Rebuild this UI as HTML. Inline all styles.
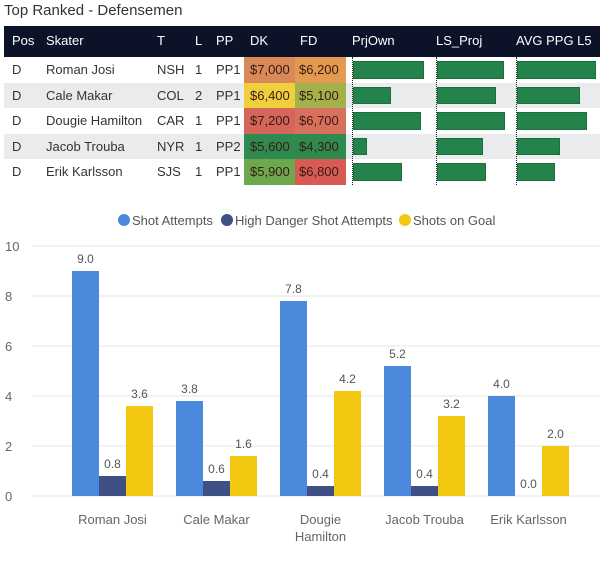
<!DOCTYPE html>
<html><head><meta charset="utf-8"><style>
body{margin:0;width:600px;height:561px;background:#fff;font-family:"Liberation Sans",sans-serif;overflow:hidden;position:relative}
.t{position:absolute;white-space:nowrap}
</style></head><body>
<div class="t" style="left:4px;top:2px;font-size:15px;color:#333">Top Ranked - Defensemen</div>
<div style="position:absolute;left:4px;top:26px;width:596px;height:31px;background:#0c1228"></div>
<div id="tbl"></div>
<svg id="chart" width="600" height="561" style="position:absolute;left:0;top:0"></svg>
<script>
const headers=["Pos","Skater","T","L","PP","DK","FD","PrjOwn","LS_Proj","AVG PPG L5"];
const headerX=[12,46,157,195,216,250,300,352,436,516];
const players=["Roman Josi","Cale Makar","Dougie Hamilton","Jacob Trouba","Erik Karlsson"];
const teams=["NSH","COL","CAR","NYR","SJS"];
const lines=["1","2","1","1","1"];
const pps=["PP1","PP1","PP1","PP2","PP1"];
const dk=["$7,000","$6,400","$7,200","$5,600","$5,900"];
const fd=["$6,200","$5,100","$6,700","$4,300","$6,800"];
const dkColors=["#d98858","#f0cf3c","#d4665a","#2e8a4e","#6ba84e"];
const fdColors=["#e39a50","#a4b04a","#d8705e","#2e8a4e","#d85a55"];
const prjOwn=[71,38,68,14,49];
const lsProj=[67,59,68,46,49];
const avgPpg=[79,63,70,43,38];
const cats=["Roman Josi","Cale Makar","Dougie\nHamilton","Jacob Trouba","Erik Karlsson"];
const shotAttempts=[9.0,3.8,7.8,5.2,4.0];
const highDanger=[0.8,0.6,0.4,0.4,0.0];
const shotsOnGoal=[3.6,1.6,4.2,3.2,2.0];
const yTicks=[0,2,4,6,8,10];

const tbl=document.getElementById('tbl');
headers.forEach((h,i)=>{const d=document.createElement('div');d.className='t';


d.style.cssText=`left:${headerX[i]}px;top:33px;font-size:13px;color:#fff`;d.textContent=h;tbl.appendChild(d);});
const rowH=25.6, top0=57;
players.forEach((p,r)=>{
 const y=top0+r*rowH;
 const row=document.createElement('div');
 
 
 row.style.cssText=`position:absolute;left:4px;top:${y}px;width:596px;height:${rowH}px;background:${r%2?'#e9ebec':'#fff'}`;
 tbl.appendChild(row);
 const cell=(x,txt,name,extra)=>{const d=document.createElement('div');d.className='t';
  
  
  d.style.cssText=`left:${x}px;top:${y+5}px;font-size:13px;color:#333;`+(extra||'');d.textContent=txt;tbl.appendChild(d);};
 const box=(x,w,c,name)=>{const d=document.createElement('div');
  
  
  d.style.cssText=`position:absolute;left:${x}px;top:${y}px;width:${w}px;height:${rowH}px;background:${c}`;tbl.appendChild(d);};
 box(244,51,dkColors[r],'dk-cell');box(295,51,fdColors[r],'fd-cell');
 cell(12,'D','pos-cell');cell(46,p,'skater-name');cell(157,teams[r],'team-cell');cell(195,lines[r],'line-cell');cell(216,pps[r],'pp-cell');
 cell(250,dk[r],'dk-value','color:#3a1a10');cell(299,fd[r],'fd-value','color:#3a1a10');
 [[352,prjOwn[r],'prjown-bar'],[436,lsProj[r],'ls-proj-bar'],[516,avgPpg[r],'avg-ppg-bar']].forEach(([x,w,n])=>{
  const b=document.createElement('div');
  
  
  b.style.cssText=`position:absolute;left:${x+1}px;top:${y+4}px;width:${w}px;height:${rowH-8}px;background:#23834a;border:1px solid #1d6e3d;box-sizing:border-box`;tbl.appendChild(b);
 });
});
[352,436,516].forEach(x=>{const d=document.createElement('div');
 
 
 d.style.cssText=`position:absolute;left:${x}px;top:57px;height:128px;border-left:1px dotted #222`;tbl.appendChild(d);});

const svg=document.getElementById('chart');const NS='http://www.w3.org/2000/svg';
const y=v=>496-v*25;
const gx=i=>72+i*104;
const bw=27;
function el(tag,attrs,name,inter,txt){const e=document.createElementNS(NS,tag);for(const k in attrs)e.setAttribute(k,attrs[k]);
 
 
 if(txt!==undefined)e.textContent=txt;svg.appendChild(e);return e;}
yTicks.forEach(t=>{el('line',{x1:32,x2:600,y1:y(t),y2:y(t),stroke:'#e6e6e6','stroke-width':1},'gridline','false');
 el('text',{x:5,y:y(t)+5,'font-size':13,fill:'#666','font-family':'Liberation Sans'},'y-tick-label','false',String(t));});
const series=[[shotAttempts,'#4a89dc','shot-attempts'],[highDanger,'#3f5184','high-danger'],[shotsOnGoal,'#f2c811','shots-on-goal']];
cats.forEach((c,i)=>{
 series.forEach(([arr,col,n],s)=>{const x=gx(i)+s*bw;const v=arr[i];
  el('rect',{x:x,y:y(v),width:bw,height:v*25,fill:col},'bar-'+n,'true');
  el('text',{x:x+bw/2,y:y(v)-8,'font-size':12,fill:'#555','text-anchor':'middle','font-family':'Liberation Sans'},'value-label','false',v.toFixed(1));
 });
 c.split('\n').forEach((ln,k)=>el('text',{x:gx(i)+40.5,y:524+k*17,'font-size':13,fill:'#666','text-anchor':'middle','font-family':'Liberation Sans'},'x-tick-label','false',ln));
});
const leg=[[124,'#4a89dc','Shot Attempts'],[227,'#3f5184','High Danger Shot Attempts'],[405,'#f2c811','Shots on Goal']];
leg.forEach(([x,c,t])=>{el('circle',{cx:x,cy:220,r:6,fill:c},'legend-marker','false');
 el('text',{x:x+8,y:225,'font-size':13,fill:'#555','font-family':'Liberation Sans'},'legend-entry','true',t);});
</script>
</body></html>
